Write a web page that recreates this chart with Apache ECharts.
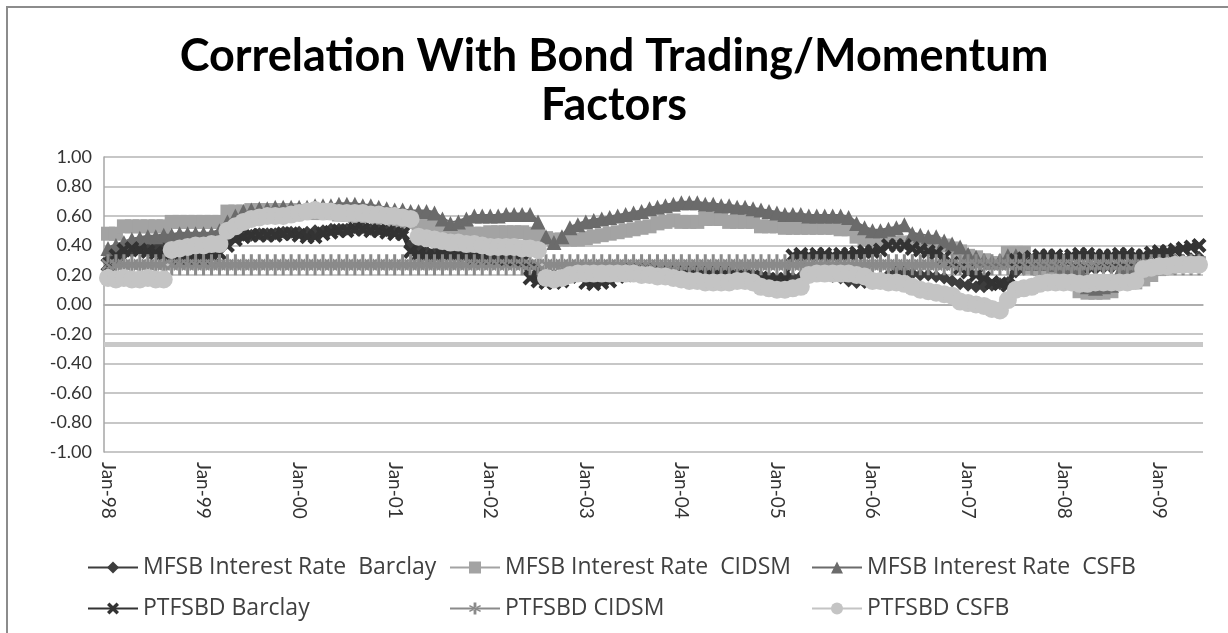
<!DOCTYPE html>
<html>
<head>
<meta charset="utf-8">
<script src="https://cdn.jsdelivr.net/npm/echarts@6/dist/echarts.min.js"></script>
<style>
html,body{margin:0;padding:0;background:#fff;}
#chart{width:1228px;height:633px;}
</style>
</head>
<body>
<div id="chart"></div>
<script>
// monthly categories Jan-98 .. Jun-09
var monthNames = ['Jan','Feb','Mar','Apr','May','Jun','Jul','Aug','Sep','Oct','Nov','Dec'];
var years = ['98','99','00','01','02','03','04','05','06','07','08','09'];
var categories = [];
for (var y = 0; y < years.length; y++) {
	for (var m = 0; m < 12; m++) {
		if (y == 11 && m > 5) break;
		categories.push(monthNames[m] + '-' + years[y]);
	}
}

var seriesNames = ['MFSB Interest Rate  Barclay', 'MFSB Interest Rate  CIDSM', 'MFSB Interest Rate  CSFB',
	'PTFSBD Barclay', 'PTFSBD CIDSM', 'PTFSBD CSFB'];

//MFSB Interest Rate Barclay (one row per year)
var mfsbBarclay = [
	0.30,0.32,0.34,0.36,0.38,0.38,0.40,0.40,0.42,0.42,0.43,0.43,
	0.43,0.44,0.44,0.45,0.46,0.47,0.47,0.48,0.48,0.48,0.49,0.49,
	0.49,0.49,0.50,0.50,0.51,0.51,0.51,0.52,0.52,0.51,0.51,0.50,
	0.50,0.49,0.40,0.38,0.36,0.35,0.35,0.34,0.33,0.33,0.32,0.32,
	0.31,0.31,0.30,0.30,0.29,0.27,0.22,0.20,0.20,0.21,0.22,0.23,
	0.23,0.22,0.22,0.23,0.23,0.24,0.24,0.24,0.24,0.23,0.23,0.23,
	0.23,0.23,0.23,0.22,0.22,0.22,0.22,0.21,0.21,0.20,0.19,0.18,
	0.17,0.17,0.18,0.19,0.20,0.20,0.20,0.19,0.18,0.16,0.15,0.15,
	0.16,0.17,0.20,0.22,0.22,0.21,0.20,0.20,0.19,0.18,0.16,0.14,
	0.13,0.12,0.12,0.13,0.14,0.15,0.22,0.24,0.25,0.25,0.25,0.25,
	0.25,0.25,0.25,0.24,0.24,0.25,0.25,0.26,0.26,0.26,0.27,0.28,
	0.29,0.29,0.30,0.30,0.31,0.32
];
//MFSB Interest Rate CIDSM
var mfsbCidsm = [
	0.48,0.48,0.53,0.53,0.53,0.53,0.53,0.53,0.56,0.56,0.56,0.56,
	0.56,0.56,0.56,0.63,0.63,0.63,0.64,0.64,0.64,0.64,0.64,0.64,
	0.63,0.63,0.62,0.62,0.62,0.61,0.61,0.60,0.60,0.60,0.59,0.59,
	0.58,0.57,0.56,0.55,0.54,0.53,0.52,0.51,0.50,0.49,0.48,0.48,
	0.49,0.49,0.49,0.49,0.49,0.48,0.47,0.45,0.44,0.44,0.44,0.44,
	0.45,0.46,0.47,0.48,0.49,0.50,0.51,0.52,0.53,0.55,0.56,0.57,
	0.56,0.56,0.56,0.58,0.58,0.58,0.56,0.56,0.56,0.56,0.53,0.53,
	0.53,0.52,0.52,0.52,0.52,0.52,0.52,0.52,0.51,0.51,0.46,0.44,
	0.43,0.43,0.43,0.42,0.42,0.42,0.42,0.41,0.41,0.40,0.38,0.36,
	0.33,0.32,0.30,0.28,0.28,0.35,0.35,0.35,0.25,0.24,0.24,0.23,
	0.22,0.20,0.09,0.08,0.08,0.08,0.09,0.15,0.15,0.15,0.17,0.20,
	0.24,0.25,0.26,0.27,0.28,0.28
];
//MFSB Interest Rate CSFB
var mfsbCsfb = [
	0.38,0.40,0.42,0.44,0.45,0.46,0.46,0.47,0.47,0.48,0.48,0.48,
	0.48,0.48,0.50,0.56,0.60,0.63,0.64,0.65,0.65,0.66,0.66,0.66,
	0.66,0.66,0.67,0.67,0.67,0.68,0.68,0.68,0.67,0.67,0.66,0.65,
	0.64,0.64,0.63,0.63,0.63,0.62,0.58,0.55,0.56,0.58,0.60,0.60,
	0.60,0.60,0.61,0.61,0.61,0.61,0.56,0.46,0.42,0.46,0.52,0.54,
	0.56,0.57,0.58,0.59,0.60,0.61,0.62,0.63,0.65,0.66,0.67,0.68,
	0.69,0.69,0.69,0.68,0.68,0.67,0.67,0.66,0.66,0.65,0.64,0.63,
	0.62,0.61,0.61,0.61,0.60,0.60,0.60,0.60,0.60,0.59,0.55,0.52,
	0.50,0.50,0.51,0.52,0.54,0.48,0.47,0.46,0.46,0.43,0.41,0.39,
	0.34,0.32,0.30,0.29,0.30,0.33,0.33,0.30,0.28,0.28,0.28,0.27,
	0.26,0.25,0.24,0.12,0.11,0.12,0.13,0.22,0.24,0.25,0.26,0.27,
	0.27,0.28,0.28,0.29,0.29,0.30
];
//PTFSBD Barclay
var ptfsbdBarclay = [
	0.27,0.33,0.37,0.38,0.37,0.36,0.35,0.34,0.33,0.32,0.32,0.32,
	0.32,0.33,0.35,0.40,0.44,0.46,0.47,0.47,0.47,0.47,0.48,0.48,
	0.47,0.46,0.46,0.48,0.49,0.50,0.50,0.51,0.51,0.50,0.50,0.49,
	0.48,0.48,0.36,0.34,0.33,0.33,0.34,0.35,0.34,0.33,0.32,0.32,
	0.32,0.32,0.31,0.30,0.29,0.18,0.16,0.15,0.15,0.16,0.19,0.20,
	0.15,0.14,0.15,0.16,0.19,0.20,0.21,0.21,0.21,0.21,0.21,0.21,
	0.21,0.21,0.21,0.20,0.20,0.20,0.20,0.20,0.20,0.19,0.18,0.17,
	0.17,0.17,0.33,0.34,0.33,0.34,0.34,0.33,0.34,0.34,0.35,0.36,
	0.36,0.37,0.40,0.40,0.40,0.38,0.37,0.36,0.35,0.32,0.28,0.25,
	0.22,0.20,0.18,0.15,0.14,0.13,0.30,0.31,0.32,0.33,0.33,0.33,
	0.32,0.33,0.34,0.34,0.33,0.33,0.33,0.34,0.34,0.33,0.33,0.35,
	0.36,0.36,0.37,0.38,0.39,0.40
];
//PTFSBD CIDSM
var ptfsbdCidsm = [
	0.27,0.27,0.27,0.27,0.27,0.27,0.27,0.27,0.27,0.27,0.27,0.27,
	0.27,0.27,0.27,0.27,0.27,0.27,0.27,0.27,0.27,0.27,0.27,0.27,
	0.27,0.27,0.27,0.27,0.27,0.27,0.27,0.27,0.27,0.27,0.27,0.27,
	0.27,0.27,0.27,0.27,0.27,0.27,0.27,0.27,0.27,0.27,0.27,0.27,
	0.27,0.27,0.27,0.27,0.27,0.27,0.27,0.27,0.27,0.27,0.27,0.27,
	0.27,0.27,0.27,0.27,0.27,0.27,0.27,0.27,0.27,0.27,0.27,0.27,
	0.27,0.27,0.27,0.27,0.27,0.27,0.27,0.27,0.27,0.27,0.27,0.27,
	0.27,0.27,0.27,0.27,0.27,0.27,0.27,0.27,0.27,0.27,0.27,0.27,
	0.27,0.27,0.27,0.27,0.27,0.27,0.27,0.27,0.27,0.27,0.27,0.27,
	0.27,0.27,0.27,0.27,0.27,0.27,0.27,0.27,0.27,0.27,0.27,0.27,
	0.27,0.27,0.27,0.27,0.27,0.27,0.27,0.27,0.27,0.27,0.27,0.27,
	0.27,0.27,0.27,0.27,0.27,0.27
];
//PTFSBD CSFB
var ptfsbdCsfb = [
	0.18,0.17,0.18,0.17,0.17,0.18,0.17,0.17,0.37,0.38,0.39,0.40,
	0.40,0.41,0.41,0.50,0.53,0.56,0.58,0.59,0.60,0.60,0.60,0.61,
	0.62,0.63,0.64,0.63,0.63,0.62,0.62,0.62,0.62,0.61,0.61,0.60,
	0.60,0.59,0.58,0.46,0.45,0.44,0.43,0.42,0.42,0.41,0.41,0.40,
	0.39,0.39,0.39,0.39,0.38,0.38,0.37,0.18,0.17,0.18,0.20,0.21,
	0.21,0.21,0.21,0.21,0.21,0.21,0.21,0.20,0.20,0.19,0.19,0.18,
	0.17,0.16,0.16,0.15,0.15,0.15,0.15,0.16,0.16,0.15,0.12,0.11,
	0.10,0.10,0.11,0.12,0.20,0.21,0.21,0.21,0.21,0.21,0.20,0.19,
	0.16,0.16,0.15,0.15,0.14,0.12,0.10,0.09,0.08,0.07,0.06,0.02,
	0.01,0.00,-0.01,-0.03,-0.04,0.03,0.10,0.11,0.12,0.14,0.15,0.15,
	0.15,0.15,0.14,0.14,0.15,0.15,0.15,0.15,0.15,0.16,0.24,0.25,
	0.26,0.26,0.27,0.27,0.27,0.27
];
//flat light line under the chart
var lowerLine = -0.27;

var yTicks = [-1, -0.8, -0.6, -0.4, -0.2, 0, 0.2, 0.4, 0.6, 0.8, 1];

//marker shapes that echarts does not have built in
var xPath = 'path://M2,0 L5,3 L8,0 L10,2 L7,5 L10,8 L8,10 L5,7 L2,10 L0,8 L3,5 L0,2 Z';
var starPath = 'path://M3.9,0 L6.1,0 L6.1,10 L3.9,10 Z M0.3,3.2 L0.9,2 L9.7,6.8 L9.1,8 Z M0.3,6.8 L0.9,8 L9.7,3.2 L9.1,2 Z';

var myChart = echarts.init(document.getElementById('chart'));

function makeSeries(name, data, color, symbol, size, extra) {
	var s = {
		name: name,
		type: 'line',
		data: data,
		symbol: symbol,
		symbolSize: size,
		showAllSymbol: true,
		itemStyle: { color: color },
		lineStyle: { color: color, width: 4 },
		emphasis: { disabled: true }
	};
	if (extra) {
		for (var k in extra) s[k] = extra[k];
	}
	return s;
}

function legendAt(name, left, top) {
	return {
		data: [name],
		left: left,
		top: top,
		itemWidth: 50,
		itemHeight: 15,
		itemGap: 4,
		selectedMode: false,
		textStyle: { fontSize: 23, color: '#404040', fontFamily: 'Open Sans' }
	};
}

myChart.setOption({
	animation: false,
	title: {
		text: 'Correlation With Bond Trading/Momentum\nFactors',
		left: 'center',
		top: 27,
		textStyle: {
			fontSize: 45,
			fontWeight: 'bold',
			fontFamily: 'Lato',
			color: '#000',
			lineHeight: 49
		}
	},
	graphic: [{
		type: 'rect',
		shape: { x: 7, y: 7, width: 1400, height: 800 },
		style: { fill: 'none', stroke: '#8c8c8c', lineWidth: 2 },
		silent: true
	}],
	legend: [
		legendAt(seriesNames[0], 82, 551),
		legendAt(seriesNames[1], 444, 551),
		legendAt(seriesNames[2], 806, 551),
		legendAt(seriesNames[3], 82, 592),
		legendAt(seriesNames[4], 444, 592),
		legendAt(seriesNames[5], 806, 592)
	],
	grid: { left: 104, right: 25, top: 157, bottom: 181 },
	xAxis: {
		type: 'category',
		data: categories,
		boundaryGap: true,
		axisTick: { show: false },
		axisLine: { lineStyle: { color: '#a6a6a6', width: 1.5 } },
		axisLabel: {
			interval: 11,
			rotate: -90,
			margin: 10,
			fontSize: 19,
			color: '#333',
			fontFamily: 'Lato'
		}
	},
	yAxis: {
		type: 'value',
		min: yTicks[0],
		max: yTicks[yTicks.length - 1],
		interval: 0.2,
		axisLine: { show: true, lineStyle: { color: '#a6a6a6', width: 1.5 } },
		axisTick: { show: false },
		splitLine: { lineStyle: { color: '#b4b4b4', width: 1.5 } },
		axisLabel: {
			margin: 12,
			fontSize: 18,
			color: '#333',
			fontFamily: 'Lato',
			formatter: function (v) { return v.toFixed(2); }
		}
	},
	series: [
		makeSeries(seriesNames[0], mfsbBarclay, '#3d3d3d', 'diamond', 13),
		makeSeries(seriesNames[1], mfsbCidsm, '#a3a3a3', 'rect', 14),
		makeSeries(seriesNames[2], mfsbCsfb, '#6b6b6b', 'triangle', 15),
		makeSeries(seriesNames[3], ptfsbdBarclay, '#333333', xPath, 15),
		makeSeries(seriesNames[4], ptfsbdCidsm, '#8a8a8a', starPath, [13, 21], { lineStyle: { color: '#8a8a8a', width: 6 } }),
		makeSeries(seriesNames[5], ptfsbdCsfb, '#c4c4c4', 'circle', 18, {
			markLine: {
				silent: true,
				symbol: 'none',
				label: { show: false },
				lineStyle: { color: '#c8c8c8', width: 5, type: 'solid' },
				data: [{ yAxis: lowerLine }]
			}
		})
	]
});
</script>
</body>
</html>
